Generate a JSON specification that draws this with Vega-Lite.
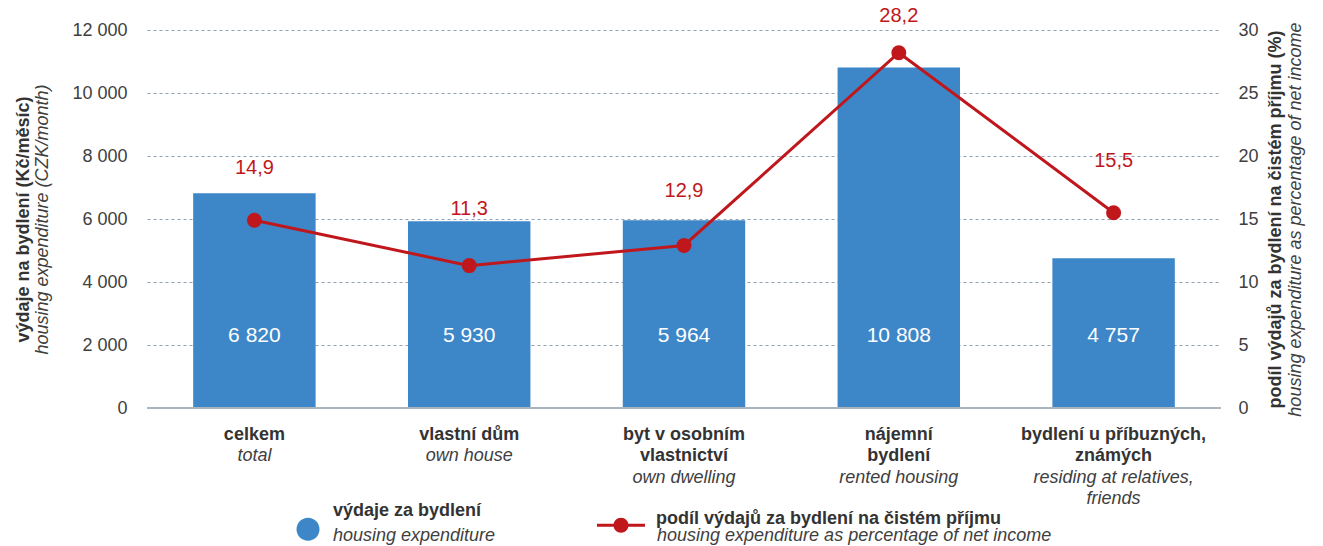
{
  "$schema": "https://vega.github.io/schema/vega-lite/v6.json",
  "width": 1074,
  "height": 378,
  "autosize": {"type": "none"},
  "padding": {"left": 147, "top": 30, "right": 102, "bottom": 138},
  "data": {
    "values": [
      {"kat": "celkem", "vydaje": 6820, "podil": 14.9},
      {"kat": "vlastní dům", "vydaje": 5930, "podil": 11.3},
      {"kat": "byt v osobním vlastnictví", "vydaje": 5964, "podil": 12.9},
      {"kat": "nájemní bydlení", "vydaje": 10808, "podil": 28.2},
      {"kat": "bydlení u příbuzných, známých", "vydaje": 4757, "podil": 15.5}
    ]
  },
  "config": {
    "view": {"stroke": null},
    "font": "Liberation Sans",
    "axis": {
      "labelFont": "Liberation Sans",
      "titleFont": "Liberation Sans",
      "labelColor": "#404040",
      "titleColor": "#333333",
      "labelFontSize": 18,
      "titleFontSize": 18,
      "titleLimit": 1000
    },
    "legend": {"labelFont": "Liberation Sans"},
    "text": {"font": "Liberation Sans"},
    "locale": {
      "number": {"decimal": ",", "thousands": " ", "grouping": [3], "currency": ["", " Kč"]}
    }
  },
  "resolve": {"scale": {"y": "independent"}, "axis": {"x": "independent"}},
  "layer": [
    {
      "mark": {"type": "bar"},
      "encoding": {
        "x": {
          "field": "kat", "type": "nominal", "sort": null,
          "scale": {"paddingInner": 0.43, "paddingOuter": 0.215},
          "axis": {
            "orient": "bottom",
            "title": null,
            "labelExpr": "datum.value === 'byt v osobním vlastnictví' ? ['byt v osobním', 'vlastnictví'] : datum.value === 'nájemní bydlení' ? ['nájemní', 'bydlení'] : datum.value === 'bydlení u příbuzných, známých' ? ['bydlení u příbuzných,', 'známých'] : datum.label",
            "labelFontWeight": "bold",
            "labelColor": "#333333",
            "labelFontSize": 18,
            "labelPadding": 17,
            "labelLineHeight": 21.5,
            "labelAngle": 0,
            "labelLimit": 400,
            "labelOverlap": false,
            "ticks": false,
            "tickSize": 0,
            "domain": false
          }
        },
        "y": {
          "field": "vydaje", "type": "quantitative",
          "scale": {"domain": [0, 12000], "nice": false},
          "axis": {
            "orient": "left",
            "title": null,
            "values": [0, 2000, 4000, 6000, 8000, 10000, 12000],
            "format": ",d",
            "labelPadding": 20,
            "ticks": false,
            "tickSize": 0,
            "domain": false,
            "grid": true,
            "gridColor": "#8fa1b3",
            "gridDash": [3, 3],
            "gridWidth": 1
          }
        },
        "color": {
          "datum": "výdaje za bydlení", "type": "nominal",
          "scale": {
            "domain": ["výdaje za bydlení", "podíl výdajů za bydlení na čistém příjmu"],
            "range": ["#3d87c8", "#c0171c"]
          },
          "legend": {
            "orient": "none",
            "legendX": 127,
            "legendY": 457,
            "direction": "horizontal",
            "title": null,
            "padding": 0,
            "symbolSize": 2304,
            "symbolStrokeWidth": 0,
            "labelOffset": 11,
            "columnPadding": 115,
            "labelFontSize": 18,
            "labelFontWeight": "bold",
            "labelColor": "#333333",
            "labelLimit": 600,
            "zindex": 2,
            "encode": {
              "symbols": {
                "update": {
                  "shape": {"signal": "datum.value === 'výdaje za bydlení' ? 'M0.896,0.75A0.479,0.479,0,1,1,-0.062,0.75A0.479,0.479,0,1,1,0.896,0.75Z' : 'M-1,0.1875H1V0.3125H-1ZM0.3125,0.25A0.3125,0.3125,0,1,1,-0.3125,0.25A0.3125,0.3125,0,1,1,0.3125,0.25Z'"},
                  "stroke": {"value": "transparent"},
                  "strokeWidth": {"value": 0}
                }
              }
            }
          }
        },
        "opacity": {
          "datum": "housing expenditure", "type": "nominal",
          "scale": {
            "domain": ["housing expenditure", "housing expenditure as percentage of net income"],
            "range": [1, 1]
          },
          "legend": {
            "orient": "none",
            "legendX": 127,
            "legendY": 482,
            "direction": "horizontal",
            "title": null,
            "padding": 0,
            "symbolSize": 2304,
            "symbolType": "M0,0L0,0",
            "symbolStrokeWidth": 0,
            "symbolFillColor": "transparent",
            "symbolStrokeColor": "transparent",
            "labelOffset": 11,
            "columnPadding": 102,
            "labelFontSize": 18,
            "labelFontStyle": "italic",
            "labelColor": "#404040",
            "labelLimit": 600,
            "zindex": 1,
            "encode": {
              "symbols": {
                "update": {
                  "shape": {"value": "M0,0L0,0"},
                  "fill": {"value": "transparent"},
                  "stroke": {"value": "transparent"},
                  "fillOpacity": {"value": 0},
                  "strokeOpacity": {"value": 0}
                }
              }
            }
          }
        }
      }
    },
    {
      "mark": {"type": "text", "color": "white", "fontSize": 21, "baseline": "middle"},
      "encoding": {
        "x": {
          "field": "kat", "type": "nominal", "sort": null,
          "axis": {
            "orient": "bottom",
            "title": null,
            "labelExpr": "datum.value === 'celkem' ? 'total' : datum.value === 'vlastní dům' ? 'own house' : datum.value === 'byt v osobním vlastnictví' ? ['\u00a0', 'own dwelling'] : datum.value === 'nájemní bydlení' ? ['\u00a0', 'rented housing'] : ['\u00a0', 'residing at relatives,', 'friends']",
            "labelFontStyle": "italic",
            "labelColor": "#404040",
            "labelFontSize": 18,
            "labelPadding": 38.5,
            "labelLineHeight": 21.5,
            "labelAngle": 0,
            "labelLimit": 400,
            "labelOverlap": false,
            "ticks": false,
            "tickSize": 0,
            "domain": false
          }
        },
        "y": {
          "datum": 2300, "type": "quantitative",
          "scale": {"domain": [0, 12000], "nice": false},
          "axis": {
            "orient": "left",
            "title": "výdaje na bydlení (Kč/měsíc)",
            "titleFontWeight": "bold",
            "titlePadding": 115,
            "labels": false,
            "ticks": false,
            "domain": false,
            "grid": false
          }
        },
        "text": {"field": "vydaje", "type": "quantitative", "format": ",d"}
      }
    },
    {
      "data": {"values": [{"nula": 0}]},
      "mark": {"type": "rule", "color": "#a9b4bf", "strokeWidth": 2},
      "encoding": {
        "y": {
          "field": "nula", "type": "quantitative",
          "scale": {"domain": [0, 12000], "nice": false},
          "axis": {
            "orient": "left",
            "title": "housing expenditure (CZK/month)",
            "titleFontWeight": "normal",
            "titleFontStyle": "italic",
            "titleColor": "#404040",
            "titlePadding": 96,
            "labels": false,
            "ticks": false,
            "domain": false,
            "grid": false
          }
        }
      }
    },
    {
      "mark": {"type": "line", "strokeWidth": 3},
      "encoding": {
        "x": {"field": "kat", "type": "nominal", "sort": null, "axis": null},
        "y": {
          "field": "podil", "type": "quantitative",
          "scale": {"domain": [0, 30], "nice": false},
          "axis": {
            "orient": "right",
            "title": "podíl výdajů za bydlení na čistém příjmu (%)",
            "titleFontWeight": "bold",
            "titleAngle": 270,
            "titleBaseline": "top",
            "titlePadding": 8,
            "values": [0, 5, 10, 15, 20, 25, 30],
            "format": "d",
            "labelPadding": 17,
            "ticks": false,
            "tickSize": 0,
            "domain": false,
            "grid": false
          }
        },
        "color": {"datum": "podíl výdajů za bydlení na čistém příjmu", "type": "nominal"},
        "opacity": {"datum": "housing expenditure as percentage of net income", "type": "nominal"}
      }
    },
    {
      "mark": {"type": "point", "filled": true, "size": 225, "opacity": 1},
      "encoding": {
        "x": {"field": "kat", "type": "nominal", "sort": null, "axis": null},
        "y": {
          "field": "podil", "type": "quantitative",
          "scale": {"domain": [0, 30], "nice": false},
          "axis": {
            "orient": "right",
            "title": "housing expenditure as percentage of net income",
            "titleFontWeight": "normal",
            "titleFontStyle": "italic",
            "titleColor": "#404040",
            "titleAngle": 270,
            "titleBaseline": "top",
            "titlePadding": 65,
            "labels": false,
            "ticks": false,
            "domain": false,
            "grid": false
          }
        },
        "color": {"datum": "podíl výdajů za bydlení na čistém příjmu", "type": "nominal"}
      }
    },
    {
      "mark": {"type": "text", "color": "#c0171c", "fontSize": 20, "baseline": "middle"},
      "encoding": {
        "x": {"field": "kat", "type": "nominal", "sort": null, "axis": null},
        "y": {
          "field": "podil", "type": "quantitative",
          "scale": {"domain": [-6.1, 27.0], "nice": false, "zero": false},
          "axis": null
        },
        "text": {"field": "podil", "type": "quantitative", "format": ".1f"}
      }
    }
  ]
}
